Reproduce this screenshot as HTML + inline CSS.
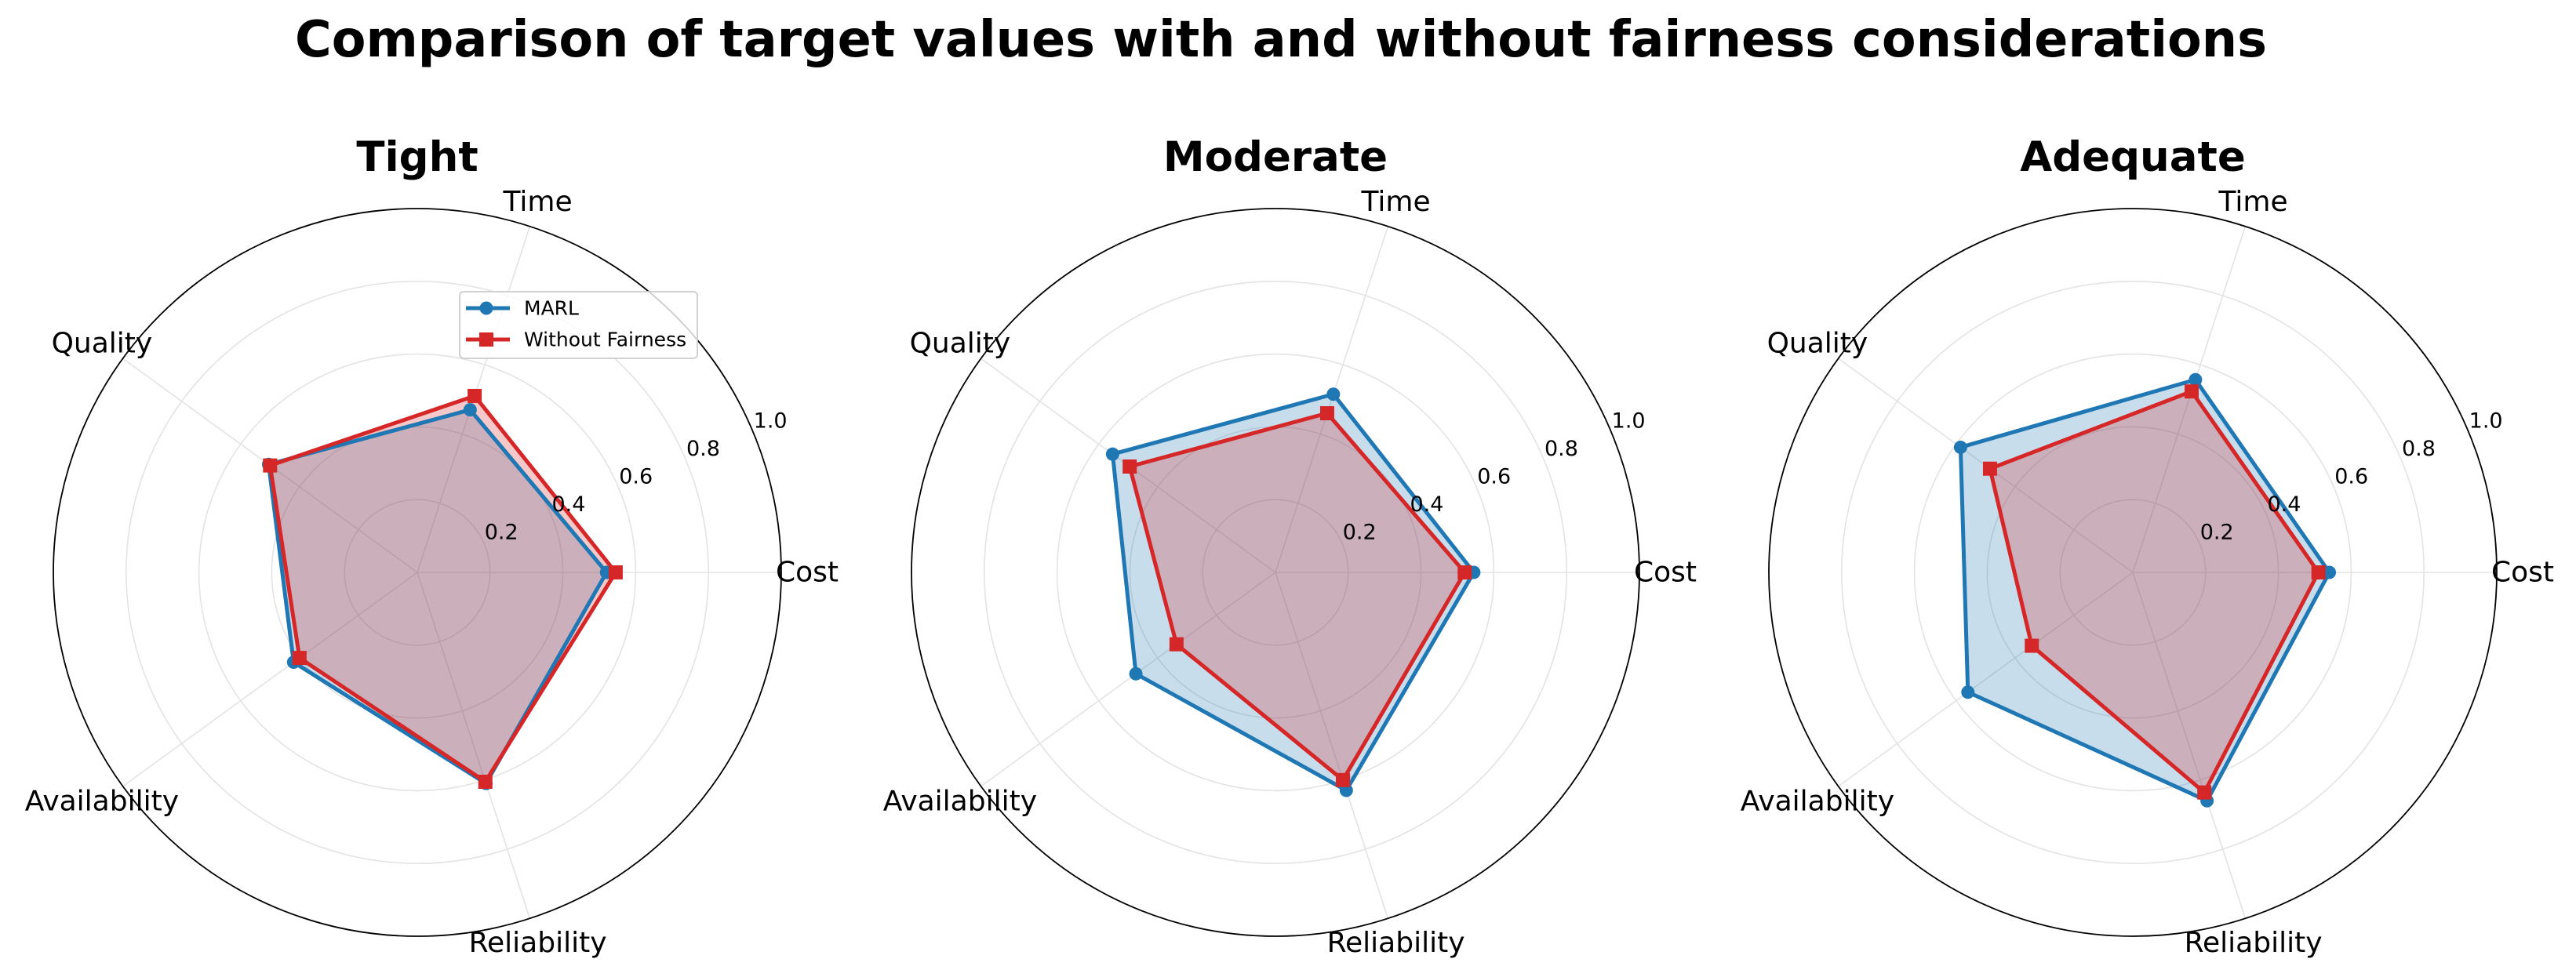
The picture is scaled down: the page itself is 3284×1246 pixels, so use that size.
<!DOCTYPE html>
<html><head><meta charset="utf-8"><style>
html,body{margin:0;padding:0;background:#fff;}
svg{display:block;font-family:"DejaVu Sans","Liberation Sans",sans-serif;}
</style></head><body>
<svg id="chart" width="3284" height="1246" viewBox="0 0 3284 1246" xmlns="http://www.w3.org/2000/svg">
<rect width="3284" height="1246" fill="#fff"/>
<text x="1633" y="72" text-anchor="middle" font-size="64" font-weight="bold" textLength="2514" lengthAdjust="spacingAndGlyphs">Comparison of target values with and without fairness considerations</text>
</svg>
<script>
const categories = ["Cost","Time","Quality","Availability","Reliability"];
const panelTitles = ["Tight","Moderate","Adequate"];
const marlTight = [0.52,0.47,0.505,0.42,0.61];
const wfTight = [0.545,0.51,0.50,0.40,0.605];
const marlModerate = [0.545,0.515,0.553,0.474,0.63];
const wfModerate = [0.52,0.46,0.495,0.336,0.60];
const marlAdequate = [0.54,0.557,0.585,0.56,0.66];
const wfAdequate = [0.51,0.523,0.485,0.343,0.636];
const rTicks = [0.2,0.4,0.6,0.8,1.0];
const rTickLabels = ["0.2","0.4","0.6","0.8","1.0"];
const seriesNames = ["MARL","Without Fairness"];

const NS = "http://www.w3.org/2000/svg";
const svg = document.getElementById("chart");
const centersX = [532,1626,2719];
const CY = 730, R = 464, RMAX = 1.0;
const BLUE = "#1f77b4", RED = "#d62728";
function mk(tag, attrs, parent){
  const e = document.createElementNS(NS, tag);
  for (const k in attrs) e.setAttribute(k, attrs[k]);
  (parent||svg).appendChild(e);
  return e;
}
function ang(i){ return i*2*Math.PI/categories.length; }
function px(cx, v, a){ return [cx + (v/RMAX)*R*Math.cos(a), CY - (v/RMAX)*R*Math.sin(a)]; }

const panels = [[marlTight,wfTight],[marlModerate,wfModerate],[marlAdequate,wfAdequate]];
panels.forEach((p, pi) => {
  const cx = centersX[pi];
  const g = mk("g", {});
  
  
  rTicks.slice(0,-1).forEach(t => {
    const c = mk("circle", {cx:cx, cy:CY, r:(t/RMAX)*R, fill:"none", stroke:"#e3e3e3", "stroke-width":1.6}, g);
    
    
  });
  categories.forEach((c, i) => {
    const [x,y] = px(cx, RMAX, ang(i));
    const l = mk("line", {x1:cx, y1:CY, x2:x, y2:y, stroke:"#e3e3e3", "stroke-width":1.6}, g);
    
    
  });
  const outer = mk("circle", {cx:cx, cy:CY, r:R, fill:"none", stroke:"#000", "stroke-width":1.8}, g);
  
  
  // fills first
  p.forEach((vals, si) => {
    const col = si===0 ? BLUE : RED;
    const poly = vals.map((v,i)=>px(cx, v, ang(i)).join(",")).join(" ");
    const f = mk("polygon", {points:poly, fill:col, "fill-opacity":0.25, stroke:"none"}, g);
    
    
  });
  // lines and markers on top
  p.forEach((vals, si) => {
    const col = si===0 ? BLUE : RED;
    const pts = vals.map((v,i)=>px(cx, v, ang(i)));
    const poly = pts.map(q=>q.join(",")).join(" ");
    const ln = mk("polygon", {points:poly, fill:"none", stroke:col, "stroke-width":5, "stroke-linejoin":"round"}, g);
    
    
    pts.forEach(q => {
      let m;
      if (si===0) m = mk("circle", {cx:q[0], cy:q[1], r:8.5, fill:col}, g);
      else m = mk("rect", {x:q[0]-9, y:q[1]-9, width:18, height:18, fill:col}, g);
      
      
    });
  });
  rTicks.forEach((t, ti) => {
    const a = 22.5*Math.PI/180;
    const [x,y] = px(cx, t, a);
    const tx = mk("text", {x:x, y:y-7, "font-size":27, fill:"#000"}, g);
    tx.textContent = rTickLabels[ti];
    
    
  });
  categories.forEach((c, i) => {
    const a = ang(i);
    const x = cx + 497*Math.cos(a), y = CY - 497*Math.sin(a);
    const tx = mk("text", {x:x, y:y, "font-size":36, "text-anchor":"middle", "dominant-baseline":"central", fill:"#000"}, g);
    tx.textContent = c;
    
    
  });
  const tt = mk("text", {x:cx, y:218, "font-size":53, "font-weight":"bold", "text-anchor":"middle"}, g);
  tt.textContent = panelTitles[pi];
  
  
});

const lg = mk("g", {});


const box = mk("rect", {x:586, y:372, width:303, height:85, rx:5, fill:"#fff", "fill-opacity":0.8, stroke:"#cccccc", "stroke-width":1.8}, lg);


seriesNames.forEach((n, i) => {
  const y = 393 + i*40;
  const col = i===0 ? BLUE : RED;
  const l = mk("line", {x1:594, y1:y, x2:650, y2:y, stroke:col, "stroke-width":5}, lg);
  
  
  let m;
  if (i===0) m = mk("circle", {cx:620, cy:y, r:8.5, fill:col}, lg);
  else m = mk("rect", {x:611, y:y-9, width:18, height:18, fill:col}, lg);
  
  
  const t = mk("text", {x:668, y:y, "font-size":25, "dominant-baseline":"central"}, lg);
  t.textContent = n;
  
  
});
</script>
</body></html>
